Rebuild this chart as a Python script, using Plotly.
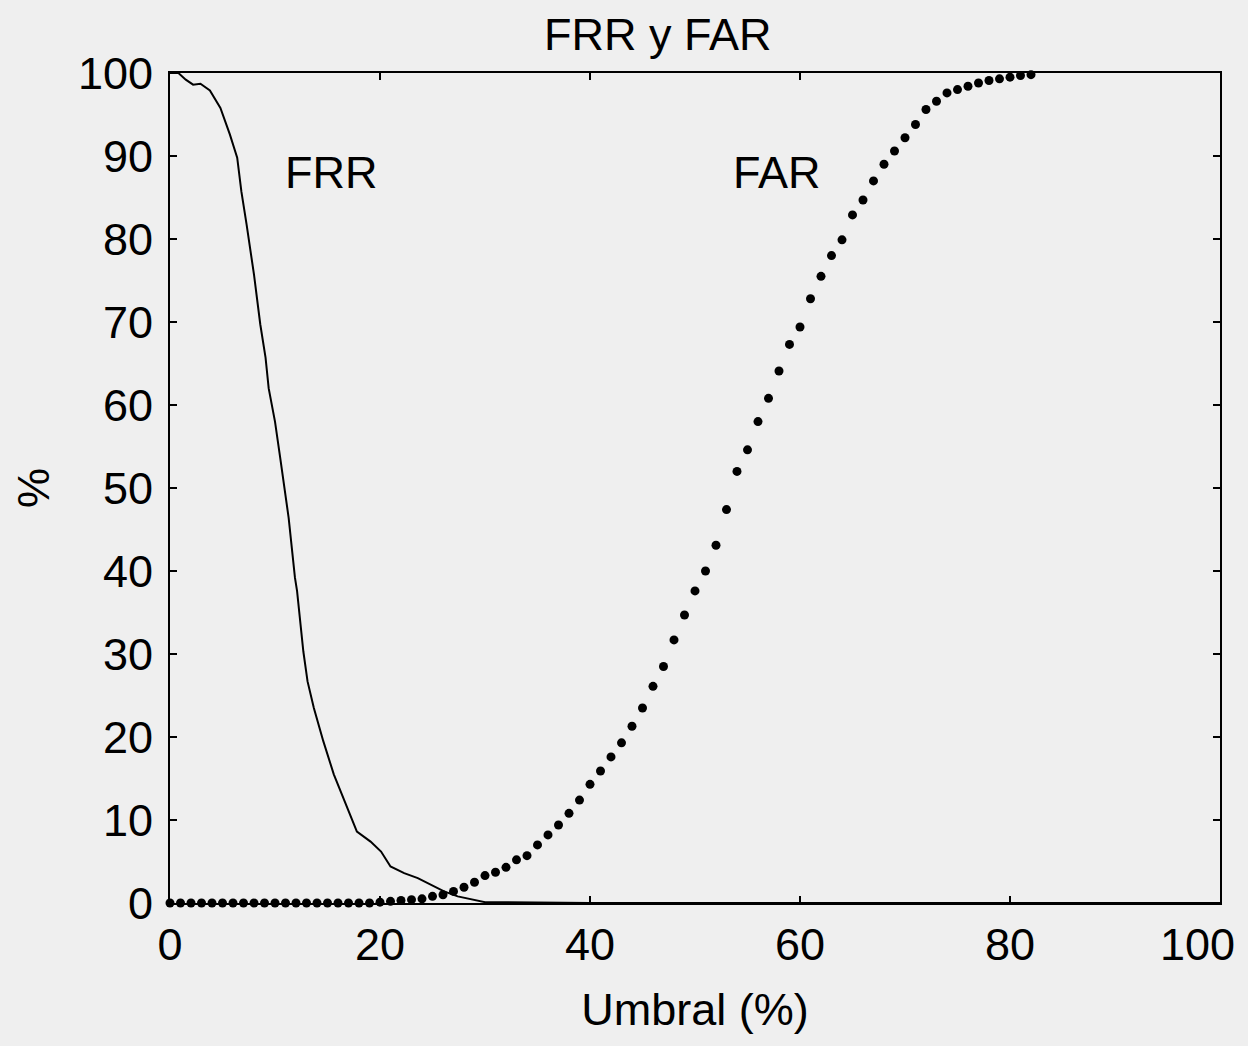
import plotly.graph_objects as go

# FRR curve (threshold %, rate %)
frr_x = [0, 0.8, 1.5, 2.2, 2.9, 3.8, 4.8, 5.7, 6.4, 6.8, 7.3, 8.0, 8.6, 9.1, 9.4, 10.0,
         10.5, 11.3, 11.9, 12.1, 12.7, 13.1, 13.7, 14.6, 15.6, 16.6, 17.8, 19.1, 20.1,
         21.0, 22.3, 23.6, 24.8, 26.1, 27.4, 28.8, 30, 40, 60, 80, 100]
frr_y = [100, 100, 99.2, 98.6, 98.7, 97.9, 95.8, 92.6, 89.8, 85.7, 81.7, 75.7, 69.7, 65.7,
         62.0, 58.0, 53.6, 46.4, 39.2, 37.6, 30.3, 26.7, 23.5, 19.5, 15.5, 12.3, 8.6, 7.4,
         6.2, 4.4, 3.6, 3.0, 2.2, 1.4, 0.8, 0.4, 0.1, 0, 0, 0, 0]

# FAR points, one per threshold step 0..82
far_x = list(range(0, 83))
far_y = [0]*20 + [0.1, 0.2, 0.3, 0.4, 0.5, 0.8, 1.0, 1.4, 1.9, 2.5,
                  3.3, 3.7, 4.3, 5.2, 5.7, 7.0, 8.2, 9.4, 10.8, 12.4,
                  14.3, 15.9, 17.6, 19.3, 21.3, 23.5, 26.1, 28.5, 31.7, 34.7,
                  37.6, 40.0, 43.1, 47.4, 52.0, 54.6, 58.0, 60.8, 64.1, 67.3,
                  69.4, 72.8, 75.5, 78.0, 79.9, 82.9, 84.7, 87.0, 89.0, 90.6,
                  92.2, 93.8, 95.6, 96.6, 97.6, 98.0, 98.4, 98.8, 99.1, 99.3,
                  99.5, 99.7, 99.8]

y_tick_vals = [0, 10, 20, 30, 40, 50, 60, 70, 80, 90, 100]
x_tick_vals = [0, 20, 40, 60, 80, 100]
x_tick_text = ["0", "20", "40", "60", "80", ""]   # last label drawn separately (shifted left)

FONT = "Liberation Sans, Arial, Helvetica, sans-serif"
BG = "#efefef"
FS = 45

fig = go.Figure()
fig.add_trace(go.Scatter(x=frr_x, y=frr_y, mode="lines",
                         line=dict(color="black", width=2), name="FRR",
                         cliponaxis=False))
fig.add_trace(go.Scatter(x=far_x, y=far_y, mode="markers",
                         marker=dict(color="black", size=9), name="FAR",
                         cliponaxis=False))

axis_common = dict(showgrid=False, zeroline=False, showline=True, linecolor="black",
                   linewidth=2, mirror="ticks", ticks="inside", ticklen=7,
                   tickwidth=1.5, tickcolor="black",
                   tickfont=dict(family=FONT, size=FS, color="black"))

fig.update_xaxes(range=[0, 100], tickvals=x_tick_vals, ticktext=x_tick_text,
                 ticklabelstandoff=1,
                 title=dict(text="Umbral (%)", font=dict(family=FONT, size=FS, color="black"),
                            standoff=24),
                 **axis_common)
fig.update_yaxes(range=[0, 100], tickvals=y_tick_vals, ticklabelstandoff=6,
                 title=dict(text="%", font=dict(family=FONT, size=FS, color="black"),
                            standoff=14),
                 **axis_common)

fig.add_annotation(x=100, y=0, yref="paper", text="100", showarrow=False,
                   xanchor="center", yanchor="top", xshift=-23, yshift=-14,
                   font=dict(family=FONT, size=FS, color="black"))
fig.add_annotation(x=15.3, y=88, text="FRR", showarrow=False,
                   font=dict(family=FONT, size=FS, color="black"))
fig.add_annotation(x=57.8, y=88, text="FAR", showarrow=False,
                   font=dict(family=FONT, size=FS, color="black"))
fig.add_annotation(x=(658 - 170) / 1050, y=1 + 38 / 830, xref="paper", yref="paper",
                   xanchor="center", yanchor="middle", text="FRR y FAR", showarrow=False,
                   font=dict(family=FONT, size=FS, color="black"))

fig.update_layout(width=1248, height=1046, showlegend=False,
                  margin=dict(l=170, r=28, t=73, b=143),
                  paper_bgcolor=BG, plot_bgcolor=BG)

fig.write_html("out.html", config={"displayModeBar": False},
               post_script="document.body.style.margin='0';document.body.style.overflow='hidden';document.body.style.background='%s';" % BG)
